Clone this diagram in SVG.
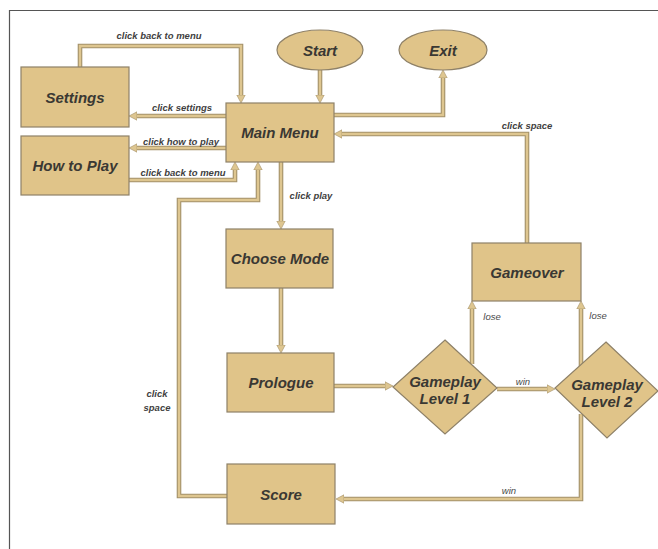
<svg xmlns="http://www.w3.org/2000/svg" xmlns:xlink="http://www.w3.org/1999/xlink" width="658" height="549" viewBox="0 0 658 549">
<style>
.box{fill:#E0C489;stroke:#8E8168;stroke-width:1.2}
.nt{font-family:"Liberation Sans",Arial,sans-serif;font-size:15px;font-weight:bold;font-style:italic;fill:#3a3833;text-anchor:middle;dominant-baseline:central}
.lb{font-family:"Liberation Sans",Arial,sans-serif;font-size:9.5px;font-weight:bold;font-style:italic;fill:#3f3f3f;text-anchor:middle}
.lt{font-family:"Liberation Sans",Arial,sans-serif;font-size:9.5px;font-style:italic;fill:#4a4a4a;text-anchor:middle}
.bg{fill:none;stroke:#A3916A;stroke-width:4.6}
.fg{fill:none;stroke:#DEC690;stroke-width:2.4;marker-end:url(#ah)}
.frame{fill:none;stroke:#555;stroke-width:1.2}
</style>
<defs>
<marker id="ah" markerUnits="userSpaceOnUse" markerWidth="10" markerHeight="10" viewBox="0 0 10 10" refX="0" refY="5" orient="auto">
<path d="M0,0.8 L8,5 L0,9.2 z" fill="#DEC690" stroke="#A3916A" stroke-width="0.6"/>
</marker>
<path id="e1" d="M320,70 V95"/>
<path id="e2" d="M334,115 H443 V78"/>
<path id="e3" d="M527,243 V134 H342"/>
<path id="e4" d="M226,116 H137"/>
<path id="e5" d="M80,67 V46 H241 V95"/>
<path id="e6" d="M226,148 H137"/>
<path id="e7" d="M129,180 H235 V170"/>
<path id="e8" d="M227,496 H179 V200 H258 V170"/>
<path id="e9" d="M281,162 V221"/>
<path id="e10" d="M281,288 V345"/>
<path id="e11" d="M334,386 H385"/>
<path id="e12" d="M497,389 H547"/>
<path id="e13" d="M472,364 V309"/>
<path id="e14" d="M581,366 V309"/>
<path id="e15" d="M581,414 V499 H344"/>
</defs>
<rect width="658" height="549" fill="#fff"/>
<path class="frame" d="M9.5,549 V10.5 H658"/>
<g id="connectors">
<use xlink:href="#e1" class="bg"/><use xlink:href="#e1" class="fg"/>
<use xlink:href="#e2" class="bg"/><use xlink:href="#e2" class="fg"/>
<use xlink:href="#e3" class="bg"/><use xlink:href="#e3" class="fg"/>
<use xlink:href="#e4" class="bg"/><use xlink:href="#e4" class="fg"/>
<use xlink:href="#e5" class="bg"/><use xlink:href="#e5" class="fg"/>
<use xlink:href="#e6" class="bg"/><use xlink:href="#e6" class="fg"/>
<use xlink:href="#e7" class="bg"/><use xlink:href="#e7" class="fg"/>
<use xlink:href="#e8" class="bg"/><use xlink:href="#e8" class="fg"/>
<use xlink:href="#e9" class="bg"/><use xlink:href="#e9" class="fg"/>
<use xlink:href="#e10" class="bg"/><use xlink:href="#e10" class="fg"/>
<use xlink:href="#e11" class="bg"/><use xlink:href="#e11" class="fg"/>
<use xlink:href="#e12" class="bg"/><use xlink:href="#e12" class="fg"/>
<use xlink:href="#e13" class="bg"/><use xlink:href="#e13" class="fg"/>
<use xlink:href="#e14" class="bg"/><use xlink:href="#e14" class="fg"/>
<use xlink:href="#e15" class="bg"/><use xlink:href="#e15" class="fg"/>
<text class="lb" x="159" y="39">click back to menu</text>
<text class="lb" x="182" y="111">click settings</text>
<text class="lb" x="181" y="145">click how to play</text>
<text class="lb" x="183" y="176">click back to menu</text>
<text class="lb" x="311" y="199">click play</text>
<text class="lb" x="527" y="129">click space</text>
<text class="lb" x="157" y="397">click</text>
<text class="lb" x="157" y="411">space</text>
<text class="lt" x="492" y="320">lose</text>
<text class="lt" x="598" y="319">lose</text>
<text class="lt" x="523" y="385">win</text>
<text class="lt" x="509" y="494">win</text>
</g>
<g id="start"><ellipse class="box" cx="320" cy="50" rx="43" ry="20"/><text class="nt" x="320" y="50">Start</text></g>
<g id="exit"><ellipse class="box" cx="443" cy="50" rx="44" ry="20"/><text class="nt" x="443" y="50">Exit</text></g>
<g id="main-menu"><rect class="box" x="226" y="103" width="108" height="59"/><text class="nt" x="280" y="132">Main Menu</text></g>
<g id="settings"><rect class="box" x="21" y="67" width="108" height="60"/><text class="nt" x="75" y="97">Settings</text></g>
<g id="how-to-play"><rect class="box" x="21" y="136" width="108" height="59"/><text class="nt" x="75" y="165">How to Play</text></g>
<g id="choose-mode"><rect class="box" x="226" y="229" width="107" height="59"/><text class="nt" x="280" y="258">Choose Mode</text></g>
<g id="prologue"><rect class="box" x="227" y="353" width="107" height="59"/><text class="nt" x="281" y="382">Prologue</text></g>
<g id="score"><rect class="box" x="227" y="464" width="108" height="60"/><text class="nt" x="281" y="494">Score</text></g>
<g id="gameover"><rect class="box" x="472" y="243" width="109" height="58"/><text class="nt" x="527" y="272">Gameover</text></g>
<g id="level1"><polygon class="box" points="445,340 497,388 445,434 393,387"/><text class="nt" x="445" y="381">Gameplay</text><text class="nt" x="445" y="398">Level 1</text></g>
<g id="level2"><polygon class="box" points="606,342 658,391 607,438 555,388"/><text class="nt" x="607" y="384">Gameplay</text><text class="nt" x="607" y="401">Level 2</text></g>
</svg>
